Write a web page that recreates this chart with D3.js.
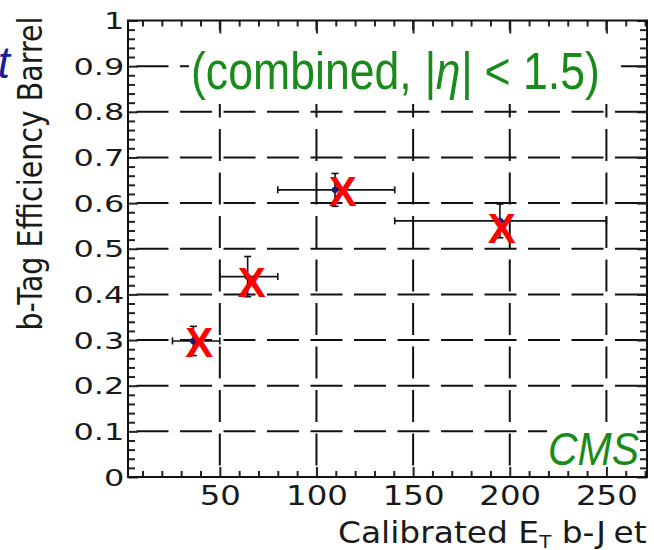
<!DOCTYPE html>
<html>
<head>
<meta charset="utf-8">
<script src="https://cdn.jsdelivr.net/npm/d3@7"></script>
<style>
  body { margin: 0; background: #fff; }
  svg { display: block; }
</style>
</head>
<body>
<div id="chart"></div>
<script>
// measured points (blue dots with error bars)
var etCenter = [36.3, 64.4, 109.6, 194.9];
var etLow = [25.5, 50, 80, 140.5];
var etHigh = [50, 80, 140.5, 250];
var eff = [0.298, 0.439, 0.629, 0.561];
var effErr = [0.032, 0.044, 0.036, 0.037];
// red X markers
var xMarkEt = [39.4, 66.5, 113.6, 195.8];
var xMarkEff = [0.296, 0.428, 0.627, 0.545];
// ticks
var xMajor = [50, 100, 150, 200, 250];
var xMinor = d3.range(10, 271, 10).filter(function (d) { return d % 50 != 0; });
var yMajor = [0, 0.1, 0.2, 0.3, 0.4, 0.5, 0.6, 0.7, 0.8, 0.9, 1];
var yMinor = d3.range(1, 50).filter(function (d) { return d % 5 != 0; }).map(function (d) { return d / 50; });
var yLabels = ["0", "0.1", "0.2", "0.3", "0.4", "0.5", "0.6", "0.7", "0.8", "0.9", "1"];

var width = 654, height = 550;
var plotL = 128, plotR = 647, plotT = 20.5, plotB = 477;

var svg = d3.select("#chart").append("svg")
  .attr("width", width).attr("height", height);

svg.append("rect").attr("width", width).attr("height", height).attr("fill", "#fff");

var x = d3.scaleLinear().domain([2.5, 271]).range([plotL, plotR]);
var y = d3.scaleLinear().domain([0, 1]).range([plotB, plotT]);

// dashed grid
var grid = svg.append("g").attr("stroke", "#111").attr("stroke-width", 2)
  .attr("stroke-dasharray", "32,11.5");
grid.selectAll("line.h").data(yMajor.slice(1, -1)).enter().append("line")
  .attr("x1", plotL).attr("x2", plotR)
  .attr("y1", function (d) { return y(d); }).attr("y2", function (d) { return y(d); })
  .attr("stroke-dashoffset", 35);
grid.selectAll("line.v").data(xMajor).enter().append("line")
  .attr("y1", plotB).attr("y2", plotT)
  .attr("x1", function (d) { return x(d); }).attr("x2", function (d) { return x(d); })
  .attr("stroke-dashoffset", 32);

// white boxes behind the labels
svg.append("rect").attr("x", 189).attr("y", 34).attr("width", 432).attr("height", 70).attr("fill", "#fff");
svg.append("rect").attr("x", 547).attr("y", 422).attr("width", 94).attr("height", 48).attr("fill", "#fff");

// axes
function ticks(axis, tr) {
  var g = svg.append("g").attr("transform", tr).call(axis);
  g.select(".domain").remove();
  g.selectAll(".tick line").attr("stroke", "#222").attr("stroke-width", 2);
  return g;
}
ticks(d3.axisBottom(x).tickValues(xMajor).tickSize(-10).tickFormat(""), "translate(0," + plotB + ")");
ticks(d3.axisBottom(x).tickValues(xMinor).tickSize(-6).tickFormat(""), "translate(0," + plotB + ")");
ticks(d3.axisTop(x).tickValues(xMajor).tickSize(-13).tickFormat(""), "translate(0," + plotT + ")");
ticks(d3.axisTop(x).tickValues(xMinor).tickSize(-6).tickFormat(""), "translate(0," + plotT + ")");
ticks(d3.axisLeft(y).tickValues(yMajor).tickSize(-10).tickFormat(""), "translate(" + plotL + ",0)");
ticks(d3.axisLeft(y).tickValues(yMinor).tickSize(-7).tickFormat(""), "translate(" + plotL + ",0)");
ticks(d3.axisRight(y).tickValues(yMajor).tickSize(-10).tickFormat(""), "translate(" + plotR + ",0)");
ticks(d3.axisRight(y).tickValues(yMinor).tickSize(-7).tickFormat(""), "translate(" + plotR + ",0)");

// tick labels
var yl = svg.append("g").attr("transform", "translate(" + plotL + ",0)")
  .call(d3.axisLeft(y).tickValues(yMajor).tickSize(0).tickFormat(function (d, i) { return yLabels[i]; }));
yl.select(".domain").remove();
yl.selectAll("text").attr("x", -2.6).attr("dy", "0.36em")
  .attr("transform", "scale(1.42,1)")
  .style("font-family", "DejaVu Sans").style("font-size", "22.5px").attr("fill", "#1a1a1a");

var xl = svg.append("g").attr("transform", "translate(0," + plotB + ")")
  .call(d3.axisBottom(x).tickValues(xMajor).tickSize(0).tickFormat(d3.format("d")));
xl.select(".domain").remove();
xl.selectAll("text").attr("y", 28).attr("dy", 0).attr("x", 0)
  .attr("transform", "scale(1.2,1)")
  .style("font-family", "DejaVu Sans").style("font-size", "27px").attr("fill", "#1a1a1a");

// frame
svg.append("rect").attr("x", plotL).attr("y", plotT)
  .attr("width", plotR - plotL).attr("height", plotB - plotT)
  .attr("fill", "none").attr("stroke", "#111").attr("stroke-width", 2);

function fit(node, x0, x1) {
  var b = node.getBBox();
  var s = (x1 - x0) / b.width;
  d3.select(node).attr("transform",
    "translate(" + x0 + ",0) scale(" + s + ",1) translate(" + (-b.x) + ",0)");
}

// axis titles
var xt = svg.append("text").attr("x", 0).attr("y", 543)
  .style("font-family", "DejaVu Sans").style("font-size", "30px").attr("fill", "#1a1a1a");
xt.append("tspan").text("Calibrated E");
xt.append("tspan").attr("dy", 5).style("font-size", "18px").text("T");
xt.append("tspan").attr("dy", -5).text(" b-J");
xt.append("tspan").attr("dx", 7).text("et");
fit(xt.node(), 338, 647);

svg.append("text")
  .attr("transform", "translate(42,173.5) scale(1.2,1) rotate(-90)")
  .attr("text-anchor", "middle")
  .style("font-family", "DejaVu Sans").style("font-size", "28.5px").attr("fill", "#1a1a1a")
  .text("b-Tag Efficiency Barrel");

// green labels
var green = "#1a8a1a";
var gt = svg.append("text").attr("x", 0).attr("y", 89)
  .style("font-family", "Liberation Sans").style("font-size", "52px").attr("fill", green);
gt.append("tspan").text("(combined, ");
gt.append("tspan").style("font-style", "italic").text("|η|");
gt.append("tspan").text(" < 1.5)");
fit(gt.node(), 191, 600);

var cms = svg.append("text").attr("x", 0).attr("y", 465)
  .style("font-family", "Liberation Sans").style("font-style", "italic")
  .style("font-size", "47px").attr("fill", green).text("CMS");
fit(cms.node(), 548, 639);

// cut-off text at left edge
svg.append("text").attr("x", 10).attr("y", 78).attr("text-anchor", "end")
  .style("font-family", "Liberation Sans").style("font-style", "italic")
  .style("font-size", "44px").attr("fill", "#1c1c9a").text("t");

// error bars
var eb = svg.append("g").attr("stroke", "#111").attr("stroke-width", 1.6);
etCenter.forEach(function (c, i) {
  var cy = y(eff[i]);
  eb.append("line").attr("x1", x(etLow[i])).attr("x2", x(etHigh[i])).attr("y1", cy).attr("y2", cy);
  [etLow[i], etHigh[i]].forEach(function (e) {
    eb.append("line").attr("x1", x(e)).attr("x2", x(e)).attr("y1", cy - 3.5).attr("y2", cy + 3.5);
  });
  var y1 = y(eff[i] + effErr[i]), y2 = y(eff[i] - effErr[i]);
  eb.append("line").attr("x1", x(c)).attr("x2", x(c)).attr("y1", y1).attr("y2", y2);
  [y1, y2].forEach(function (v) {
    eb.append("line").attr("x1", x(c) - 3.5).attr("x2", x(c) + 3.5).attr("y1", v).attr("y2", v);
  });
});
svg.selectAll("circle.pt").data(etCenter).enter().append("circle")
  .attr("cx", function (d) { return x(d); })
  .attr("cy", function (d, i) { return y(eff[i]); })
  .attr("r", 3.2).attr("fill", "#1a1a7a");

// red X markers
svg.selectAll("text.mark").data(xMarkEt).enter().append("text")
  .attr("x", function (d) { return x(d); })
  .attr("y", function (d, i) { return y(xMarkEff[i]); })
  .attr("dy", "0.36em").attr("text-anchor", "middle")
  .style("font-family", "Liberation Sans").style("font-weight", "bold")
  .style("font-size", "42px").attr("fill", "#ff0000").text("X");
</script>
</body>
</html>
